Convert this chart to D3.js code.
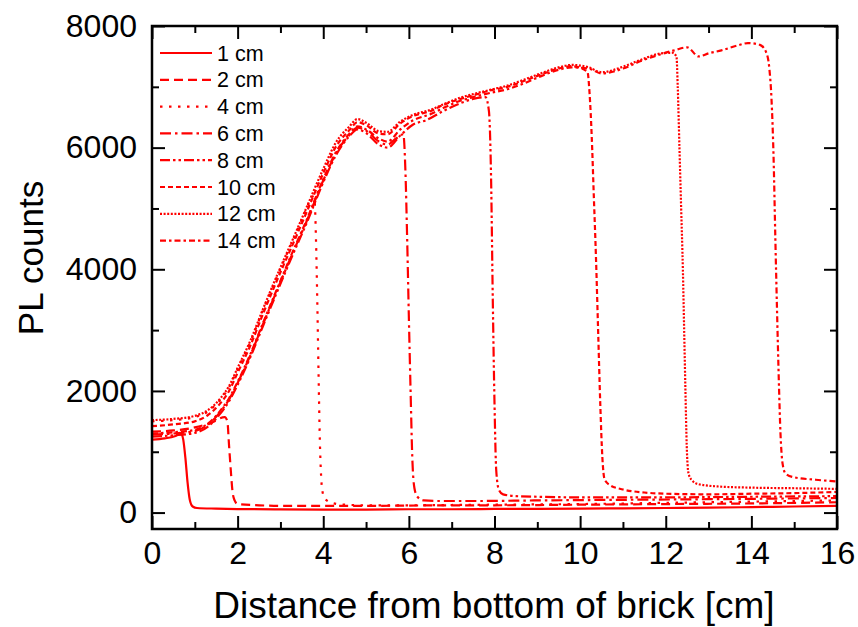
<!DOCTYPE html>
<html>
<head>
<meta charset="utf-8">
<script src="https://cdn.jsdelivr.net/npm/d3@7"></script>
<style>
  body { margin: 0; background: #fff; }
  svg text { font-family: "Liberation Sans", Arial, Helvetica, sans-serif; fill: #000; }
</style>
</head>
<body>
<div class="plchart"></div>
<script>
// data, [distance cm, PL counts]
const labels = ["1 cm", "2 cm", "4 cm", "6 cm", "8 cm", "10 cm", "12 cm", "14 cm"];

const s1cm = [[0,1200],[0.3,1220],[0.55,1260],[0.68,1300],[0.73,1200],[0.78,900],[0.83,500],[0.88,220],[0.95,100],[1.05,75],[1.5,65],[2,58],[3,52],[4,50],[5,50],[6,55],[7,55],[8,60],[9,62],[10,65],[11,70],[12,75],[13,80],[14,90],[15,100],[16,110]];

const s2cm = [[0,1330],[0.5,1350],[1.0,1400],[1.4,1480],[1.7,1570],[1.76,1500],[1.8,1100],[1.84,700],[1.88,350],[1.93,200],[2.0,140],[2.5,120],[3,110],[4,110],[5,110],[6,115],[7,120],[8,120],[10,130],[12,140],[14,150],[16,170]];

const s4cm = [[0,1500],[0.5,1520],[1.0,1570],[1.3,1660],[1.6,1860],[1.8,2060],[2.0,2360],[2.3,2810],[2.6,3340],[3.0,4010],[3.3,4490],[3.6,4980],[3.75,5200],[3.8,5100],[3.83,4500],[3.86,3500],[3.89,2300],[3.92,1200],[3.95,600],[3.98,350],[4.05,220],[4.2,160],[4.5,130],[5,120],[6,120],[7,125],[8,130],[10,140],[12,160],[14,180],[16,200]];

const s6cm = [[0,1280],[0.5,1300],[1.0,1340],[1.3,1440],[1.6,1660],[1.8,1860],[2.0,2130],[2.3,2590],[2.6,3110],[3.0,3790],[3.3,4290],[3.6,4770],[4.0,5460],[4.3,5910],[4.6,6200],[4.8,6330],[5.0,6280],[5.3,6100],[5.5,6050],[5.7,6150],[5.87,6220],[5.92,5600],[5.96,4500],[6.0,3200],[6.04,2000],[6.08,900],[6.13,400],[6.2,260],[6.35,200],[6.7,190],[7.5,190],[9,200],[11,210],[13,220],[16,240]];

const s8cm = [[0,1250],[0.5,1270],[1.0,1310],[1.3,1410],[1.6,1630],[1.8,1830],[2.0,2100],[2.3,2560],[2.6,3080],[3.0,3760],[3.3,4260],[3.6,4740],[4.0,5430],[4.3,5880],[4.6,6180],[4.8,6300],[5.0,6240],[5.3,6050],[5.5,6000],[5.8,6200],[6.1,6380],[6.4,6450],[6.8,6600],[7.2,6730],[7.5,6800],[7.79,6830],[7.87,6600],[7.92,5500],[7.96,3500],[8.0,1800],[8.04,700],[8.1,380],[8.2,300],[8.5,270],[9,260],[10,250],[12,250],[14,260],[16,270]];

const s10cm = [[0,1420],[0.5,1450],[1.0,1500],[1.3,1600],[1.6,1800],[1.8,2000],[2.0,2300],[2.3,2750],[2.6,3280],[3.0,3950],[3.3,4430],[3.6,4920],[4.0,5580],[4.3,6020],[4.6,6280],[4.8,6420],[5.0,6370],[5.3,6230],[5.5,6220],[5.8,6400],[6.1,6520],[6.5,6600],[6.8,6700],[7.2,6800],[7.5,6860],[7.9,6940],[8.3,7000],[8.7,7100],[9.0,7180],[9.5,7300],[9.8,7340],[10.17,7250],[10.22,6900],[10.27,6200],[10.32,5200],[10.37,4200],[10.42,3000],[10.47,1800],[10.52,900],[10.57,550],[10.7,450],[11.0,380],[11.5,330],[12,310],[13,300],[14,310],[15,320],[16,340]];

const s12cm = [[0,1520],[0.5,1540],[1.0,1590],[1.3,1680],[1.6,1880],[1.8,2080],[2.0,2380],[2.3,2830],[2.6,3360],[3.0,4030],[3.3,4510],[3.6,5000],[4.0,5650],[4.3,6090],[4.6,6340],[4.8,6470],[5.0,6410],[5.3,6270],[5.5,6260],[5.8,6430],[6.1,6540],[6.5,6620],[6.8,6710],[7.2,6820],[7.5,6880],[7.9,6950],[8.3,7020],[8.7,7120],[9.0,7200],[9.5,7320],[9.8,7360],[10.2,7320],[10.5,7240],[11.0,7330],[11.4,7440],[11.9,7550],[12.15,7560],[12.25,7500],[12.28,7000],[12.32,6000],[12.36,5000],[12.4,4000],[12.43,3000],[12.46,2000],[12.49,1100],[12.53,650],[12.6,540],[12.75,470],[13.2,430],[14,410],[15,400],[16,390]];

const s14cm = [[0,1300],[0.5,1320],[1.0,1360],[1.3,1460],[1.6,1680],[1.8,1880],[2.0,2150],[2.3,2610],[2.6,3130],[3.0,3810],[3.3,4310],[3.6,4790],[4.0,5480],[4.3,5930],[4.6,6220],[4.8,6350],[5.0,6300],[5.3,6150],[5.5,6100],[5.8,6300],[6.1,6450],[6.5,6550],[6.8,6650],[7.2,6770],[7.5,6830],[7.9,6900],[8.3,6960],[8.7,7060],[9.0,7150],[9.5,7280],[9.8,7320],[10.2,7300],[10.5,7220],[11.0,7300],[11.4,7420],[11.9,7540],[12.2,7600],[12.5,7650],[12.77,7500],[13.0,7550],[13.3,7600],[13.68,7680],[13.92,7720],[14.2,7690],[14.35,7560],[14.42,7300],[14.47,6800],[14.52,5800],[14.56,4500],[14.6,3300],[14.64,2200],[14.68,1300],[14.73,800],[14.8,640],[15.0,580],[15.5,540],[16,510]];

const seriesData = [s1cm, s2cm, s4cm, s6cm, s8cm, s10cm, s12cm, s14cm];

const xMajor = [0, 2, 4, 6, 8, 10, 12, 14, 16];
const xMinor = [1, 3, 5, 7, 9, 11, 13, 15];
const yMajor = [0, 2000, 4000, 6000, 8000];
const yMinor = [1000, 3000, 5000, 7000];

const dashes = ["none", "9,5", "2.5,6.5", "11,4,2.5,4", "10,3,2.5,3,2.5,3", "5,3", "2,1.6", "6,3,2.5,3"];

const width = 858;
const height = 627;
const plot = { left: 152, right: 837, top: 26, bottom: 529 };

const svg = d3
  .select(".plchart")
  .append("svg")
  .attr("width", width)
  .attr("height", height);

const x = d3.scaleLinear().domain([0, 16]).range([plot.left, plot.right]);
const y = d3.scaleLinear().domain([-270, 8000]).range([plot.bottom, plot.top]);

svg.append("defs")
  .append("clipPath")
  .attr("id", "plotclip")
  .append("rect")
  .attr("x", plot.left)
  .attr("y", plot.top)
  .attr("width", plot.right - plot.left)
  .attr("height", plot.bottom - plot.top);

// curves
const line = d3
  .line()
  .x((d) => x(d[0]))
  .y((d) => y(d[1]))
  .curve(d3.curveMonotoneX);

svg
  .append("g")
  .attr("clip-path", "url(#plotclip)")
  .selectAll("path")
  .data(seriesData)
  .enter()
  .append("path")
  .attr("d", line)
  .attr("fill", "none")
  .attr("stroke", "#ff0000")
  .attr("stroke-width", 2.2)
  .attr("stroke-dasharray", (d, i) => dashes[i]);

// axes, ticks point inward on all sides
const styleAxis = (g) => {
  g.select(".domain").remove();
  g.selectAll(".tick line").attr("stroke", "#000").attr("stroke-width", 2);
};

svg.append("g")
  .attr("transform", `translate(0,${plot.bottom})`)
  .call(d3.axisBottom(x).tickValues(xMajor).tickSize(-13).tickPadding(12).tickFormat(d3.format("d")))
  .call(styleAxis)
  .selectAll("text")
  .attr("font-size", 32);

svg.append("g")
  .attr("transform", `translate(0,${plot.bottom})`)
  .call(d3.axisBottom(x).tickValues(xMinor).tickSize(-7).tickFormat(""))
  .call(styleAxis);

svg.append("g")
  .attr("transform", `translate(0,${plot.top})`)
  .call(d3.axisTop(x).tickValues(xMajor).tickSize(-13).tickFormat(""))
  .call(styleAxis);

svg.append("g")
  .attr("transform", `translate(0,${plot.top})`)
  .call(d3.axisTop(x).tickValues(xMinor).tickSize(-7).tickFormat(""))
  .call(styleAxis);

svg.append("g")
  .attr("transform", `translate(${plot.left},0)`)
  .call(d3.axisLeft(y).tickValues(yMajor).tickSize(-13).tickPadding(15).tickFormat(d3.format("d")))
  .call(styleAxis)
  .selectAll("text")
  .attr("font-size", 32);

svg.append("g")
  .attr("transform", `translate(${plot.left},0)`)
  .call(d3.axisLeft(y).tickValues(yMinor).tickSize(-7).tickFormat(""))
  .call(styleAxis);

svg.append("g")
  .attr("transform", `translate(${plot.right},0)`)
  .call(d3.axisRight(y).tickValues(yMajor).tickSize(-13).tickFormat(""))
  .call(styleAxis);

svg.append("g")
  .attr("transform", `translate(${plot.right},0)`)
  .call(d3.axisRight(y).tickValues(yMinor).tickSize(-7).tickFormat(""))
  .call(styleAxis);

// frame
svg.append("rect")
  .attr("x", plot.left)
  .attr("y", plot.top)
  .attr("width", plot.right - plot.left)
  .attr("height", plot.bottom - plot.top)
  .attr("fill", "none")
  .attr("stroke", "#000")
  .attr("stroke-width", 2.5);

// axis titles
svg.append("text")
  .attr("x", 494)
  .attr("y", 618)
  .attr("text-anchor", "middle")
  .attr("font-size", 37)
  .text("Distance from bottom of brick [cm]");

svg.append("text")
  .attr("transform", "translate(43,258) rotate(-90)")
  .attr("text-anchor", "middle")
  .attr("font-size", 35)
  .text("PL counts");

// legend
const legend = svg
  .append("g")
  .selectAll("g")
  .data(labels)
  .enter()
  .append("g")
  .attr("transform", (d, i) => `translate(160,${53 + i * 26.8})`);

legend
  .append("line")
  .attr("x1", 0)
  .attr("x2", 52)
  .attr("stroke", "#ff0000")
  .attr("stroke-width", 2.2)
  .attr("stroke-dasharray", (d, i) => dashes[i]);

legend
  .append("text")
  .attr("x", 57)
  .attr("dy", "0.35em")
  .attr("font-size", 21.5)
  .attr("fill", "#222")
  .text((d) => d);
</script>
</body>
</html>
